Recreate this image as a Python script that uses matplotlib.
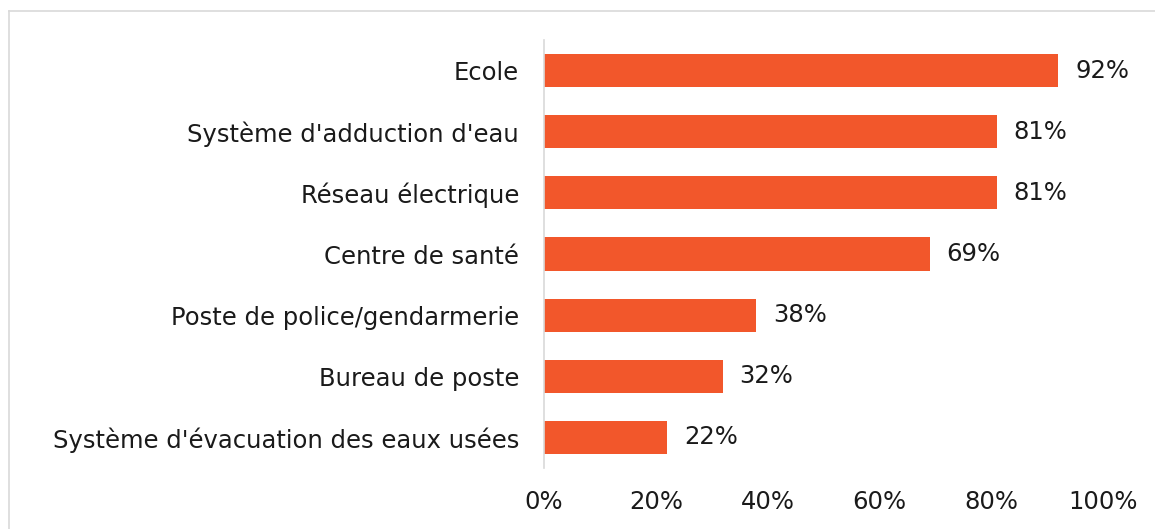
import matplotlib.pyplot as plt
from matplotlib.lines import Line2D

plt.rcParams["font.family"] = ["DejaVu Sans"]

categories = [
    "Ecole",
    "Système d'adduction d'eau",
    "Réseau électrique",
    "Centre de santé",
    "Poste de police/gendarmerie",
    "Bureau de poste",
    "Système d'évacuation des eaux usées",
]
values = [92, 81, 81, 69, 38, 32, 22]
xticks = [0, 20, 40, 60, 80, 100]
xtick_labels = ["0%", "20%", "40%", "60%", "80%", "100%"]

bar_color = "#F2572B"
text_color = "#1a1a1a"
fs = 17.5

fig = plt.figure(figsize=(11.55, 5.29), dpi=100)
ax = fig.add_axes([544 / 1155, 1 - 468 / 529, (1103 - 544) / 1155, (468 - 40) / 529])

ypos = list(range(len(categories)))
ax.barh(ypos, values, height=0.54, color=bar_color)
for y, v in zip(ypos, values):
    ax.text(v + 3, y, f"{v}%", va="center", ha="left", fontsize=fs, color=text_color)

ax.set_xlim(0, 100)
ax.set_ylim(len(categories) - 0.5, -0.5)
ax.set_yticks(ypos)
ax.set_yticklabels(categories, fontsize=fs, color=text_color)
ax.set_xticks(xticks)
ax.set_xticklabels(xtick_labels, fontsize=fs, color=text_color)
ax.tick_params(axis="both", length=0)
ax.tick_params(axis="y", pad=18)
ax.tick_params(axis="x", pad=16)

for side in ["top", "right", "bottom"]:
    ax.spines[side].set_visible(False)
ax.spines["left"].set_color("#d9d9d9")
ax.spines["left"].set_linewidth(1.2)

# light frame, only top and left edges visible in the crop
fig.add_artist(Line2D([9 / 1155, 9 / 1155], [0, 1 - 11 / 529], transform=fig.transFigure,
                      color="#d9d9d9", lw=1.2))
fig.add_artist(Line2D([9 / 1155, 1], [1 - 11 / 529, 1 - 11 / 529], transform=fig.transFigure,
                      color="#d9d9d9", lw=1.2))

fig.savefig("out.png", dpi=100)
